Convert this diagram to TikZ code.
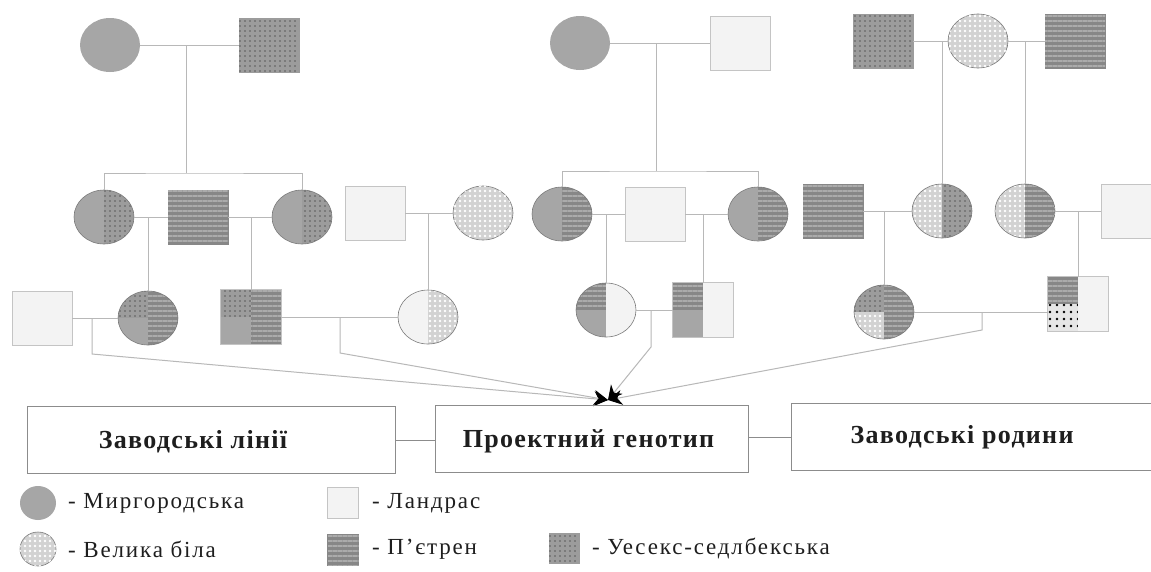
\documentclass[tikz,border=0pt]{standalone}
\usepackage{fontspec}
\setmainfont{Liberation Serif}
\newfontfamily\boxfont[LetterSpace=5]{Liberation Serif}
\newfontfamily\legfont[LetterSpace=8]{Liberation Serif}
\usetikzlibrary{shapes.geometric,patterns.meta,arrows.meta,calc}
\definecolor{cM}{HTML}{A6A6A6}
\definecolor{cL}{HTML}{F3F3F3}
\definecolor{cLB}{HTML}{C4C4C4}
\definecolor{cGb}{HTML}{D2D2D2}
\definecolor{cPb}{HTML}{878787}
\definecolor{cPl}{HTML}{ABABAB}
\definecolor{cWb}{HTML}{9C9C9C}
\definecolor{cWd}{HTML}{5A5A5A}
\definecolor{cX}{HTML}{E6E6E6}
\definecolor{cLine}{HTML}{B8B8B8}
\definecolor{cBox}{HTML}{8C8C8C}
\definecolor{cEdge}{HTML}{7A7A7A}
\definecolor{cTxt}{HTML}{1E1E1E}
\tikzset{
 fem/.style={ellipse, minimum width=60pt, minimum height=54pt, inner sep=0pt},
 mal/.style={rectangle, minimum width=60pt, minimum height=54pt, inner sep=0pt},
 brM/.style={fill=cM},
 brL/.style={fill=cL},
 brG/.style={fill=cGb, postaction={pattern={Dots[distance=5pt,radius=1.3pt]}, pattern color=white}},
 brP/.style={fill=cPb, postaction={pattern={Lines[angle=0,distance=5pt,line width=1.5pt]}, pattern color=cPl}},
 brW/.style={fill=cWb, postaction={pattern={Dots[distance=5pt,radius=0.9pt]}, pattern color=cWd}},
 brX/.style={fill=cX, postaction={pattern={Dots[distance=7pt,radius=1.4pt]}, pattern color=black}},
 con/.style={draw=cLine, line width=1pt},
 toarr/.style={con, -{Stealth[black,length=14pt,width=15pt]}},
 blk/.style={draw=cBox, line width=0.9pt, rectangle, inner sep=0pt, minimum height=67pt},
 lbl/.style={font=\boxfont\fontsize{26}{30}\selectfont\bfseries, text=cTxt},
 leg/.style={font=\legfont\fontsize{23}{26}\selectfont, anchor=west, inner sep=0pt, text=cTxt},
}
\newcommand\pedLR[3]{%
 \begin{scope}
 \clip (#1.center) ellipse [x radius=30pt,y radius=27pt];
 \path[#2] (#1.west |- #1.north) rectangle (#1.south);
 \path[#3] (#1.north) rectangle (#1.east |- #1.south);
 \end{scope}
 \draw[cEdge, line width=0.6pt] (#1.center) ellipse [x radius=30pt,y radius=27pt];}
\newcommand\pedQ[4]{%
 \begin{scope}
 \clip (#1.center) ellipse [x radius=30pt,y radius=27pt];
 \path[#2] (#1.west |- #1.north) rectangle (#1.center);
 \path[#3] (#1.west) rectangle (#1.south);
 \path[#4] (#1.north) rectangle (#1.east |- #1.south);
 \end{scope}
 \draw[cEdge, line width=0.6pt] (#1.center) ellipse [x radius=30pt,y radius=27pt];}
\newcommand\pedQs[4]{%
 \path[#2] (#1.north west) rectangle (#1.center);
 \path[#3] (#1.west) rectangle (#1.south);
 \path[#4] (#1.north) rectangle (#1.south east);
 \draw[cLB, line width=0.8pt] (#1.north west) rectangle (#1.south east);}
\begin{document}
\begin{tikzpicture}[x=1pt,y=-1pt]
\useasboundingbox (0,0) rectangle (1151,571);
\fill[white] (0,0) rectangle (1151,571);
\clip (0,0) rectangle (1151,571);

% ---- row 1
\node[fem, brM] (a1) at (110,45) {};
\node[mal, brW, draw=cWb] (a2) at (269,45) {};
\node[fem, brM] (c0) at (580,43) {};
\node[mal, brL, draw=cLB] (c00) at (740,43) {};
\node[mal, brW, draw=cWb] (d1) at (883,41) {};
\node[fem, brG, draw=cEdge, line width=0.6pt] (d2) at (978,41) {};
\node[mal, brP, draw=cPb] (d3) at (1075,41) {};

% ---- row 2
\node[fem] (a3) at (104,217) {};
\pedLR{a3}{brM}{brW}
\node[mal, brP, draw=cPb] (a4) at (198,217) {};
\node[fem] (a5) at (302,217) {};
\pedLR{a5}{brM}{brW}
\node[mal, brL, draw=cLB] (a6) at (375,213) {};
\node[fem, brG, draw=cEdge, line width=0.6pt] (a7) at (483,213) {};
\node[fem] (c1) at (562,214) {};
\pedLR{c1}{brM}{brP}
\node[mal, brL, draw=cLB] (c2) at (655,214) {};
\node[fem] (c3) at (758,214) {};
\pedLR{c3}{brM}{brP}
\node[mal, brP, draw=cPb] (d4) at (833,211) {};
\node[fem] (d5) at (942,211) {};
\pedLR{d5}{brG}{brW}
\node[fem] (d6) at (1025,211) {};
\pedLR{d6}{brG}{brP}
\node[mal, brL, draw=cLB] (d7) at (1131,211) {};

% ---- row 3
\node[mal, brL, draw=cLB] (b0) at (42,318) {};
\node[fem] (b1) at (148,318) {};
\pedQ{b1}{brW}{brM}{brP}
\node[mal] (b2) at (251,317) {};
\pedQs{b2}{brW}{brM}{brP}
\node[fem] (b3) at (428,317) {};
\pedLR{b3}{brL}{brG}
\node[fem] (b4) at (606,310) {};
\pedQ{b4}{brP}{brM}{brL}
\node[mal] (b5) at (703,310) {};
\pedQs{b5}{brP}{brM}{brL}
\node[fem] (e1) at (884,312) {};
\pedQ{e1}{brW}{brG}{brP}
\node[mal] (e2) at (1078,304) {};
\pedQs{e2}{brP}{brX}{brL}

% ---- pedigree connectors
\coordinate (j1) at (186,45);
\coordinate (s1) at (186,173);
\draw[con] (a1) -- (a2);
\draw[con] (j1) -- (s1);
\draw[con] (a3.north) |- (s1) -| (a5.north);

\coordinate (j2) at (656,43);
\coordinate (s2) at (656,171);
\draw[con] (c0) -- (c00);
\draw[con] (j2) -- (s2);
\draw[con] (c1.north) |- (s2) -| (c3.north);

\draw[con] (d1) -- (d2);
\draw[con] (d2) -- (d3);
\draw[con] (d5.north |- d1.east) -- (d5.north);
\draw[con] (d6.north |- d3.west) -- (d6.north);

\draw[con] (a3) -- (a4);
\draw[con] (a4) -- (a5);
\draw[con] (b1.north |- a3.east) -- (b1.north);
\draw[con] (b2.north |- a4.east) -- (b2.north);
\draw[con] (a6) -- (a7);
\draw[con] (b3.north |- a6.east) -- (b3.north);
\draw[con] (c1) -- (c2);
\draw[con] (c2) -- (c3);
\draw[con] (b4.north |- c1.east) -- (b4.north);
\draw[con] (b5.north |- c2.east) -- (b5.north);
\draw[con] (d4) -- (d5);
\draw[con] (d6) -- (d7);
\draw[con] (e1.north |- d4.east) -- (e1.north);
\draw[con] (e2.north |- d6.east) -- (e2.north);

% ---- matings of row 3 and arrows to the project genotype
\draw[con] (b0) -- (b1);
\draw[con] (b2) -- (b3);
\draw[con] (b4) -- (b5);
\draw[con] (e1.east) -- (e1.east -| e2.west);
\coordinate (tip) at (608,400);
\coordinate (m1) at (92,318);  \coordinate (k1) at (92,354);
\coordinate (m2) at (340,317); \coordinate (k2) at (340,353);
\coordinate (m3) at (651,310); \coordinate (k3) at (651,347);
\coordinate (m4) at (982,312); \coordinate (k4) at (982,330);
\draw[toarr] (m1) -- (k1) -- (tip);
\draw[toarr] (m2) -- (k2) -- (tip);
\draw[toarr] (m3) -- (k3) -- (tip);
\draw[toarr] (m4) -- (k4) -- (tip);

% ---- boxes
\node[blk, minimum width=368pt, label={[lbl, xshift=-18pt, yshift=-2pt]center:Заводські лінії}] (z1) at (211,440) {};
\node[blk, minimum width=313pt, label={[lbl, xshift=-3pt, yshift=-2pt]center:Проектний генотип}] (z2) at (591.5,439) {};
\node[blk, minimum width=384pt, label={[lbl, xshift=-21pt]center:Заводські родини}] (z3) at (983,437) {};
\draw[con, draw=cBox] (z1.east) -- (z1.east -| z2.west);
\draw[con, draw=cBox] (z2.east |- z3.west) -- (z3.west);

% ---- legend
\node[ellipse, minimum width=36pt, minimum height=34pt, inner sep=0pt, brM] (lg1) at (38,503) {};
\node[leg] (lt1) at (68,503) {- Миргородська};
\node[rectangle, minimum size=31pt, inner sep=0pt, brL, draw=cLB] (lg2) at (343,503) {};
\node[leg] (lt2) at (372,503) {- Ландрас};
\node[ellipse, minimum width=36pt, minimum height=34pt, inner sep=0pt, brG, draw=cEdge, line width=0.6pt] (lg3) at (38,549) {};
\node[leg] (lt3) at (68,549) {- Велика біла};
\node[rectangle, minimum size=31pt, inner sep=0pt, brP, draw=cPb] (lg4) at (343,550) {};
\node[leg] (lt4) at (372,549) {- П’єтрен};
\node[rectangle, minimum size=30pt, inner sep=0pt, brW, draw=cWb] (lg5) at (564,548) {};
\node[leg] (lt5) at (592,548) {- Уесекс-седлбекська};
\end{tikzpicture}
\end{document}
